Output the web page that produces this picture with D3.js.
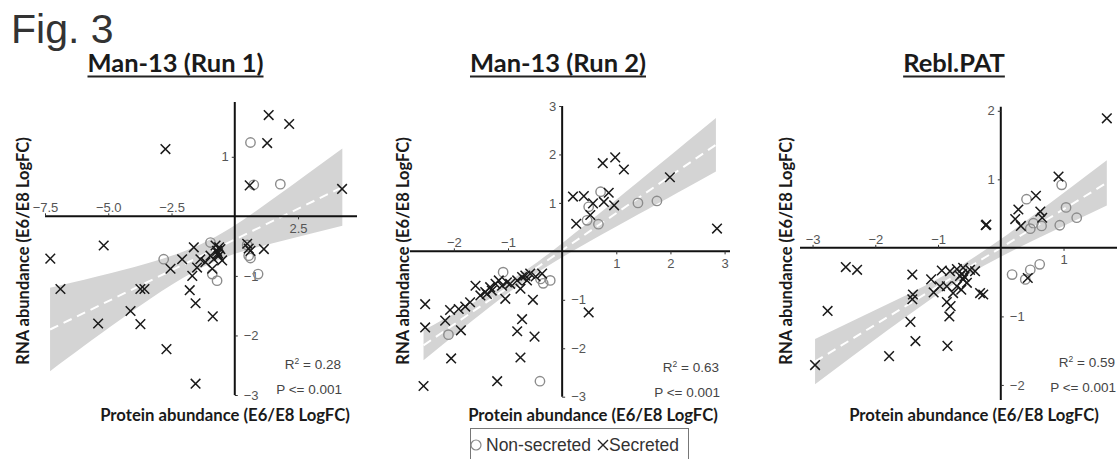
<!DOCTYPE html>
<html>
<head>
<meta charset="utf-8">
<script src="https://cdn.jsdelivr.net/npm/d3@7"></script>
<style>
  body { margin: 0; background: #fff; }
  svg { display: block; }
  .tick text { font-family: "Liberation Sans", Arial, sans-serif; font-size: 13px; fill: #555; }
  .tick line { stroke: #333; }
  .lab { font-family: Lato, "Open Sans", sans-serif; font-weight: 700; fill: #1a1a1a; }
  .stat { font-family: "Liberation Sans", Arial, sans-serif; font-size: 13.5px; fill: #444; }
</style>
</head>
<body>
<script>
// values (protein logFC, rna logFC)
const run1Sec = [[1.34,1.70],[2.15,1.55],[1.28,1.23],[-2.74,1.13],[0.59,0.52],[4.24,0.46],
  [-5.18,-0.49],[-7.29,-0.71],[-6.89,-1.22],[-3.73,-1.22],[-3.57,-1.22],[-4.12,-1.59],[-5.40,-1.80],
  [-3.73,-1.81],[-2.70,-2.23],[-1.55,-2.81],[-1.78,-1.24],[-1.55,-1.46],[-0.87,-1.68],[-2.08,-0.72],
  [-2.54,-0.88],[-1.68,-1.00],[-1.62,-0.52],[-1.36,-0.72],[-1.16,-0.77],[-1.49,-0.86],[-0.96,-0.66],
  [-0.76,-0.49],[-0.70,-0.58],[-0.57,-0.55],[-0.63,-0.66],[-0.83,-0.72],[-0.89,-0.88],[-0.50,-0.74],
  [-0.62,-0.52],[-0.66,-0.62],[0.49,-0.46],[0.62,-0.58],[1.15,-0.55],[0.55,-0.54]]
const run1Non = [[0.62,1.24],[0.75,0.53],[1.80,0.54],[-2.81,-0.72],[-0.96,-0.44],[-0.89,-0.97],
  [-0.70,-1.08],[0.55,-0.66],[0.62,-0.70],[0.92,-0.97],[0.49,-0.48]]

const run2Sec = [[0.75,1.82],[0.98,1.94],[1.14,1.69],[1.99,1.53],[2.86,0.47],[0.20,1.13],[0.40,1.14],
  [0.57,0.99],[0.86,1.21],[0.77,1.02],[0.96,0.95],[0.52,0.75],[0.26,0.57],[0.49,-1.26],
  [-2.53,-1.09],[-2.53,-1.57],[-2.56,-2.78],[-2.05,-2.21],[-1.20,-2.68],[-0.77,-2.19],[-0.83,-1.65],
  [-0.74,-1.40],[-0.51,-1.76],[-0.54,-1.00],[-1.05,-0.98],[-2.16,-1.43],[-1.87,-1.63],
  [-2.07,-1.21],[-1.91,-1.19],[-1.79,-1.14],[-1.70,-1.05],[-1.60,-0.71],[-1.51,-0.91],[-1.42,-0.84],
  [-1.33,-0.74],[-1.23,-0.67],[-1.17,-0.60],[-1.11,-0.71],[-1.02,-0.64],[-0.96,-0.67],[-0.83,-0.60],
  [-0.74,-0.53],[-0.68,-0.50],[-0.65,-0.60],[-0.59,-0.46],[-0.49,-0.52],[-0.37,-0.46],[-0.77,-0.77],
  [-1.30,-0.81],[-1.39,-0.88]]
const run2Non = [[0.71,1.23],[0.49,0.92],[0.46,0.64],[0.67,0.56],[1.40,1.00],[1.75,1.04],[-1.09,-0.43],
  [-0.40,-0.57],[-0.35,-0.66],[-0.22,-0.60],[-2.10,-1.72],[-0.41,-2.68]]

const reblSec = [[1.69,1.89],[0.92,1.04],[0.56,0.76],[0.28,0.56],[0.23,0.42],[0.32,0.32],[0.63,0.53],
  [0.66,0.44],[-0.24,0.33],[-0.23,0.34],[0.43,-0.44],[-2.47,-0.28],[-2.29,-0.32],[-2.76,-0.92],
  [-2.96,-1.71],[-1.78,-1.58],[-1.41,-0.39],[-1.40,-0.68],[-1.41,-0.75],[-1.44,-1.08],[-1.36,-1.36],
  [-0.85,-1.43],[-0.82,-1.00],[-0.86,-0.79],[-0.80,-0.85],[-1.11,-0.46],[-1.07,-0.65],[-0.94,-0.33],
  [-0.81,-0.34],[-0.70,-0.31],[-0.60,-0.29],[-0.49,-0.32],[-0.41,-0.34],[-0.65,-0.41],[-0.60,-0.46],
  [-0.54,-0.51],[-0.70,-0.56],[-0.86,-0.56],[-0.76,-0.66],[-0.33,-0.66],[-0.28,-0.68],[-0.63,-0.61],
  [-0.97,-0.56],[-0.62,-0.38],[-0.58,-0.42]]
const reblNon = [[0.41,0.71],[0.97,0.92],[1.04,0.59],[1.21,0.44],[0.94,0.33],[0.65,0.32],[0.47,0.28],
  [0.52,0.36],[0.18,-0.39],[0.39,-0.46],[0.47,-0.32],[0.62,-0.24]]

// fit line ends and confidence band (x, lower, upper) as seen in the figure
const run1Fit = [[-7.3,-1.90],[4.25,0.49]]
const run1Band = [[-7.3,-2.60,-1.20],[-4.5,-1.73,-0.91],[-1.3,-0.86,-0.46],[1.5,-0.45,0.29],[4.25,-0.16,1.14]]
const run2Fit = [[-2.56,-1.94],[2.84,2.20]]
const run2Band = [[-2.56,-2.25,-1.63],[-1.2,-1.03,-0.77],[-0.1,-0.19,0.08],[1.4,0.76,1.43],[2.84,1.65,2.75]]
const reblFit = [[-2.96,-1.66],[1.69,0.95]]
const reblBand = [[-2.96,-1.99,-1.33],[-1.8,-1.20,-0.82],[-0.64,-0.46,-0.26],[0.5,0.10,0.46],[1.69,0.62,1.28]]

const run1XTicks = [-7.5, -5.0, -2.5, 2.5]
const run1YTicks = [-3, -2, -1, 1]
const run2XTicks = [-2, -1, 1, 2, 3]
const run2YTicks = [-3, -2, -1, 1, 2, 3]
const reblXTicks = [-3, -2, -1, 1]
const reblYTicks = [-2, -1, 1, 2]

const titles = ["Man-13 (Run 1)", "Man-13 (Run 2)", "Rebl.PAT"]
const rSquared = ["0.28", "0.63", "0.59"]

const panels = [
  { sec: run1Sec, non: run1Non, fit: run1Fit, band: run1Band, xt: run1XTicks, yt: run1YTicks, fmt: ".1f",
    xDom: [-7.5, 4.83], xRng: [45, 357], yDom: [-3, 1.92], yRng: [395, 102],
    titleX: 175.5, xLabX: 225, yLabX: 29, statX: 341, statY: 369 },
  { sec: run2Sec, non: run2Non, fit: run2Fit, band: run2Band, xt: run2XTicks, yt: run2YTicks, fmt: "d",
    xDom: [-2.81, 3.1], xRng: [410, 730], yDom: [-3, 3], yRng: [396.7, 106],
    titleX: 558, xLabX: 593, yLabX: 409, statX: 719, statY: 372 },
  { sec: reblSec, non: reblNon, fit: reblFit, band: reblBand, xt: reblXTicks, yt: reblYTicks, fmt: "d",
    xDom: [-3.2, 1.86], xRng: [800, 1117.5], yDom: [-2.22, 2.06], yRng: [400, 106.7],
    titleX: 954, xLabX: 974, yLabX: 792, statX: 1115, statY: 367 }
]

const svg = d3.select("body").append("svg")
  .attr("width", 1117)
  .attr("height", 459)

svg.append("text")
  .attr("x", 11).attr("y", 43)
  .attr("font-family", "Liberation Sans, Arial, sans-serif")
  .attr("font-size", 41)
  .attr("fill", "#333")
  .text("Fig. 3")

panels.forEach((p, i) => {
  const x = d3.scaleLinear().domain(p.xDom).range(p.xRng)
  const y = d3.scaleLinear().domain(p.yDom).range(p.yRng)
  const g = svg.append("g")

  // title, underlined
  const t = g.append("text").attr("class", "lab")
    .attr("x", p.titleX).attr("y", 72)
    .attr("text-anchor", "middle")
    .attr("font-size", 25.5)
    .text(titles[i])
  const tw = t.node().getComputedTextLength()
  g.append("line")
    .attr("x1", p.titleX - tw / 2).attr("x2", p.titleX + tw / 2)
    .attr("y1", 76.5).attr("y2", 76.5)
    .attr("stroke", "#222").attr("stroke-width", 2)

  // confidence band + dashed fit
  const area = d3.area()
    .x(d => x(d[0])).y0(d => y(d[1])).y1(d => y(d[2]))
    .curve(d3.curveNatural)
  g.append("path").datum(p.band)
    .attr("d", area)
    .attr("fill", "#d4d4d4")

  g.append("path").datum(p.fit)
    .attr("d", d3.line().x(d => x(d[0])).y(d => y(d[1])))
    .attr("stroke", "#fff").attr("stroke-width", 2)
    .attr("stroke-dasharray", "9,6").attr("fill", "none")

  // axes through origin
  const x0 = x(0), y0 = y(0)
  g.append("line").attr("x1", p.xRng[0]).attr("x2", p.xRng[1]).attr("y1", y0).attr("y2", y0)
    .attr("stroke", "#111").attr("stroke-width", 2)
  g.append("line").attr("x1", x0).attr("x2", x0).attr("y1", p.yRng[0]).attr("y2", p.yRng[1])
    .attr("stroke", "#111").attr("stroke-width", 2)

  const ax = (a, vals, fmt, tr, pad) => {
    const s = g.append("g").attr("transform", tr)
      .call(a.tickValues(vals).tickFormat(d3.format(fmt)).tickSize(3).tickPadding(pad))
    s.select(".domain").remove()
  }
  ax(d3.axisTop(x), p.xt.filter(v => v < 0), p.fmt, `translate(0,${y0})`, 1)
  ax(d3.axisBottom(x), p.xt.filter(v => v > 0), p.fmt, `translate(0,${y0})`, 4)
  ax(d3.axisLeft(y), p.yt.filter(v => v > 0), "d", `translate(${x0},0)`, 3)
  ax(d3.axisRight(y), p.yt.filter(v => v < 0), "d", `translate(${x0},0)`, 6)

  // points
  g.selectAll(".non").data(p.non).enter().append("circle")
    .attr("cx", d => x(d[0])).attr("cy", d => y(d[1]))
    .attr("r", 4.7)
    .attr("fill", "none").attr("stroke", "#8c8c8c").attr("stroke-width", 1.4)

  g.selectAll(".sec").data(p.sec).enter().append("path")
    .attr("transform", d => `translate(${x(d[0])},${y(d[1])})`)
    .attr("d", "M-4.8,-4.8L4.8,4.8M-4.8,4.8L4.8,-4.8")
    .attr("stroke", "#1a1a1a").attr("stroke-width", 1.5)

  // axis titles
  g.append("text").attr("class", "lab")
    .attr("x", p.xLabX).attr("y", 421)
    .attr("text-anchor", "middle").attr("font-size", 16.7)
    .text("Protein abundance (E6/E8 LogFC)")
  g.append("text").attr("class", "lab")
    .attr("transform", `translate(${p.yLabX},251) rotate(-90)`)
    .attr("text-anchor", "middle").attr("font-size", 16.5)
    .text("RNA abundance (E6/E8 LogFC)")

  // stats
  const r = g.append("text").attr("class", "stat")
    .attr("x", p.statX).attr("y", p.statY).attr("text-anchor", "end")
  r.append("tspan").text("R")
  r.append("tspan").attr("dy", -5).attr("font-size", 8.5).text("2")
  r.append("tspan").attr("dy", 5).text(" = " + rSquared[i])
  g.append("text").attr("class", "stat")
    .attr("x", p.statX + 1).attr("y", p.statY + 25).attr("text-anchor", "end")
    .text("P <= 0.001")
})

// legend
const leg = svg.append("g")
leg.append("rect")
  .attr("x", 470.5).attr("y", 428.5).attr("width", 218).attr("height", 32)
  .attr("fill", "none").attr("stroke", "#777").attr("stroke-width", 1)
leg.append("circle").attr("cx", 476).attr("cy", 445).attr("r", 5)
  .attr("fill", "none").attr("stroke", "#888").attr("stroke-width", 1.2)
leg.append("text").attr("x", 486).attr("y", 451)
  .attr("font-family", "Liberation Sans, Arial, sans-serif").attr("font-size", 17.5).attr("fill", "#333")
  .text("Non-secreted")
leg.append("path").attr("transform", "translate(603,445)")
  .attr("d", "M-5,-5L5,5M-5,5L5,-5").attr("stroke", "#222").attr("stroke-width", 1.4)
leg.append("text").attr("x", 609).attr("y", 451)
  .attr("font-family", "Liberation Sans, Arial, sans-serif").attr("font-size", 17.5).attr("fill", "#333")
  .text("Secreted")
</script>
</body>
</html>
